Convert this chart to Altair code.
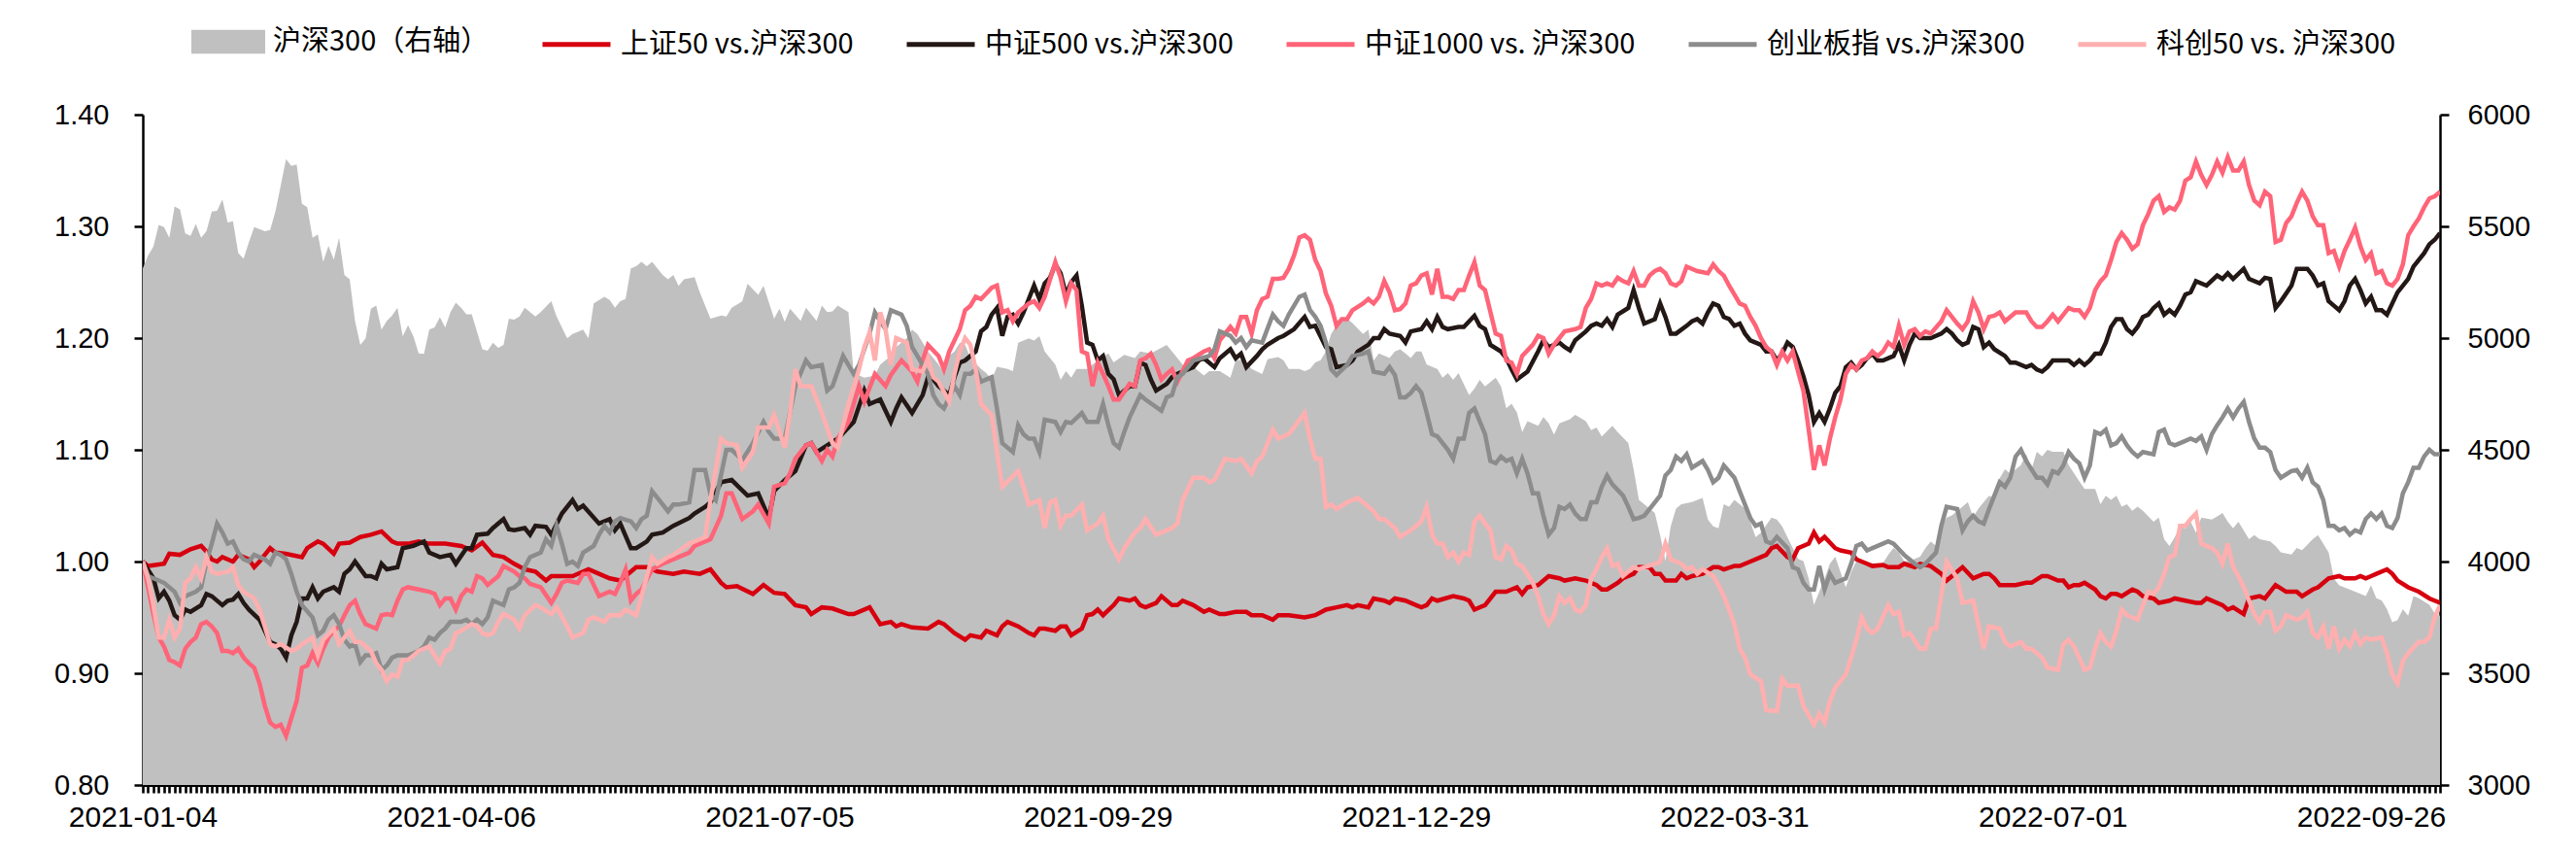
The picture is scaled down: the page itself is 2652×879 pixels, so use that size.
import altair as alt
import pandas as pd

# ---------------- data ----------------
N_DAYS = 434
TICK_STEP = 60
TICK_LABELS = ["2021-01-04", "2021-04-06", "2021-07-05", "2021-09-29",
               "2021-12-29", "2022-03-31", "2022-07-01", "2022-09-26"]

AREA_NAME = "沪深300（右轴）"
AREA_COLOR = "#c0c0c0"
SERIES_NAMES = ["上证50 vs.沪深300", "中证500 vs.沪深300", "中证1000 vs. 沪深300",
                "创业板指 vs.沪深300", "科创50 vs. 沪深300"]
SERIES_COLORS = ["#d7000f", "#231815", "#ff6478", "#8c8c8c", "#ffafaf"]

# (trading-day index, index level)
HS300 = [(0,5312),(1,5370),(2,5410),(3,5507),(4,5497),(5,5449),(6,5589),(7,5576),(8,5468),(9,5458),(10,5511),(11,5449),(12,5478),(13,5566),(14,5570),(15,5621),(16,5517),(17,5523),(18,5380),(19,5355),(20,5429),(21,5497),(23,5478),(24,5484),(25,5566),(26,5683),(27,5801),(28,5771),(29,5777),(30,5601),(31,5586),(32,5449),(33,5464),(34,5341),(35,5413),(36,5351),(37,5449),(38,5283),(39,5263),(40,5077),(41,4970),(42,4999),(43,5132),(44,5146),(45,5038),(46,5077),(47,5101),(48,5136),(49,5009),(50,5058),(51,5009),(52,4931),(53,4929),(54,5038),(55,5048),(56,5093),(57,5048),(58,5116),(59,5159),(60,5136),(61,5107),(62,5107),(63,5028),(64,4950),(65,4944),(66,4979),(67,4956),(68,4970),(69,5087),(70,5083),(71,5097),
 (72,5136),(74,5097),(75,5116),(77,5165),(78,5097),(80,4999),(81,5019),(83,5038),(84,4999),(85,5155),(87,5185),(88,5171),(89,5136),(90,5165),(91,5175),(92,5312),(93,5322),(94,5341),(95,5322),(96,5341),(98,5283),(99,5263),(100,5283),(101,5234),(102,5263),(104,5273),(105,5204),(107,5087),(109,5101),(110,5097),(111,5136),(113,5165),(114,5243),(116,5194),(117,5234),(119,5087),(120,5132),(121,5073),(122,5132),(124,5077),(125,5136),(127,5077),(128,5146),(129,5116),(130,5120),(131,5146),(133,5116),(134,4843),(136,4823),(138,4833),(139,4882),(141,4921),(142,4960),(144,5000),
 (145,5038),(146,5019),(148,4940),(150,4882),(151,4843),(152,4921),(153,4940),(154,4979),(155,4970),(156,4911),(158,4862),(159,4843),(160,4813),(161,4872),(163,4862),(164,4852),(165,4979),(167,4999),(168,4989),(169,5009),(170,4940),(172,4882),(173,4813),(174,4852),(175,4823),(176,4862),(178,4862),(179,4882),(182,4931),(183,4891),(185,4925),(187,4911),(188,4940),(189,4936),(190,4931),(193,4970),(194,4940),(196,4882),(197,4862),(198,4872),(200,4833),(201,4852),(203,4852),(205,4823),(206,4901),(207,4901),(208,4891),(209,4862),(211,4839),(212,4905),(214,4915),(215,4901),(216,4862),(218,4862),
 (219,4852),(220,4862),(221,4891),(222,4901),(223,4940),(224,5019),(225,5058),(226,5077),(227,5087),(228,5067),(230,5019),(231,5038),(232,4900),(233,4931),(235,4911),(236,4940),(237,4950),(238,4931),(239,4911),(240,4940),(241,4940),(242,4882),(244,4862),(245,4823),(246,4843),(247,4813),(248,4843),(250,4745),(251,4774),(252,4813),(253,4784),(255,4823),(256,4784),(257,4686),(258,4706),(259,4667),(260,4579),(261,4628),(263,4608),(264,4647),(265,4618),(266,4569),(267,4618),(269,4637),(270,4657),(272,4628),(273,4588),(274,4600),(275,4560),(277,4608),(278,4579),(280,4530),(281,4413),(282,4276),(285,4217),(286,4119),(287,4002),(288,4158),(289,4237),(290,4256),
 (292,4266),(294,4285),(295,4188),(296,4158),(297,4149),(298,4256),(299,4246),(300,4276),(302,4237),(303,4178),(304,4109),(305,4129),(307,4197),(308,4188),(309,4158),(310,4109),(311,4061),(312,4012),(313,4002),(314,3924),(315,3806),(316,3865),(317,3924),(318,3990),(319,4022),(320,3953),(321,3885),(322,3953),(323,4002),(324,4002),(326,3992),(328,3992),(329,4030),(330,4061),(331,4040),(332,4002),(333,4002),(335,4022),(336,4060),(337,4090),(338,4070),(339,4158),(340,4197),(341,4207),(343,4246),(344,4266),(345,4200),(346,4237),(347,4266),(348,4295),(349,4285),(350,4373),(351,4413),(352,4393),(354,4432),(355,4481),(356,4413),(357,4491),(358,4471),(359,4500),(360,4491),(362,4491),(363,4432),(365,4360),
 (366,4325),(368,4325),(369,4256),(370,4295),(371,4276),(372,4295),(373,4246),(374,4256),(375,4227),(376,4246),(377,4227),(379,4178),(380,4197),(381,4100),(382,4070),(383,4109),(384,4158),(385,4149),(386,4178),(387,4129),(388,4197),(390,4188),(392,4217),(393,4178),(394,4149),(395,4178),(397,4100),(398,4119),(399,4100),(401,4090),(402,4070),(403,4041),(405,4031),(406,4061),(407,4051),(409,4100),(410,4119),(412,4041),(413,3924),(414,3894),(416,3875),(417,3865),(419,3846),(420,3894),(421,3836),(422,3826),(423,3787),(424,3728),(425,3738),(426,3787),(427,3758),(428,3846),(429,3836),(431,3806),(432,3767),(433,3758)]

SZ50 = [(0,1.000),(1,0.996),(4,0.998),(5,1.007),(7,1.006),(9,1.011),(11,1.014),(12,1.009),(13,1.002),(14,1.000),(15,1.004),(17,1.000),(18,1.006),(20,1.002),(21,0.995),(22,1.000),(24,1.012),(25,1.008),(27,1.007),(30,1.004),(31,1.012),(33,1.018),(34,1.016),(36,1.007),(37,1.016),(39,1.017),(41,1.022),(43,1.024),(45,1.027),(47,1.018),(48,1.016),(50,1.016),(52,1.018),(54,1.016),(57,1.016),(60,1.014),(62,1.010),(64,1.017),(66,1.006),(68,1.004),(70,0.998),(72,0.993),
 (74,0.991),(76,0.983),(77,0.987),(81,0.987),(84,0.993),(86,0.989),(88,0.985),(90,0.983),(93,0.995),(95,0.995),(97,0.991),(100,0.989),(102,0.991),(105,0.989),(107,0.993),(109,0.981),(110,0.977),(112,0.978),(115,0.971),(117,0.979),(119,0.972),(121,0.971),(123,0.961),(125,0.959),(126,0.953),(128,0.959),(130,0.958),(133,0.953),(134,0.953),(137,0.959),(139,0.944),(141,0.946),(142,0.942),(143,0.944),(145,0.941),
 (148,0.940),(150,0.946),(151,0.944),(153,0.936),(155,0.930),(156,0.934),(158,0.932),(159,0.938),(161,0.934),(162,0.942),(163,0.946),(165,0.942),(167,0.936),(168,0.934),(169,0.940),(170,0.940),(172,0.938),(173,0.942),(174,0.942),(175,0.934),(177,0.940),(178,0.952),(179,0.953),(180,0.957),(181,0.952),(183,0.961),(184,0.967),(186,0.965),(187,0.967),(188,0.961),(189,0.959),(191,0.963),(192,0.969),(194,0.961),(195,0.961),(196,0.965),(198,0.961),(200,0.955),(201,0.957),(203,0.953),(204,0.953),(206,0.955),(208,0.955),(209,0.952),(211,0.952),(213,0.948),(214,0.952),(216,0.952),(219,0.950),
 (221,0.952),(223,0.957),(225,0.959),(227,0.961),(228,0.959),(229,0.961),(231,0.959),(232,0.967),(234,0.965),(235,0.963),(236,0.967),(238,0.965),(240,0.961),(241,0.959),(242,0.961),(243,0.967),(244,0.965),(247,0.969),(249,0.967),(250,0.965),(251,0.957),(253,0.961),(255,0.973),(257,0.973),(259,0.977),(260,0.971),(261,0.977),(263,0.979),(265,0.987),(267,0.985),(268,0.983),(270,0.985),(272,0.983),(274,0.979),(275,0.975),(276,0.975),(278,0.981),(279,0.985),(281,0.989),(282,0.995),(284,0.995),(285,0.989),(286,0.989),(287,0.983),(289,0.983),(290,0.989),(291,0.985),(292,0.987),
 (294,0.989),(296,0.995),(297,0.995),(298,0.993),(300,0.996),(301,0.996),(303,1.000),(305,1.004),(306,1.006),(307,1.012),(308,1.014),(310,1.004),(311,1.002),(312,1.012),(314,1.016),(315,1.026),(316,1.018),(317,1.022),(319,1.012),(320,1.010),(322,1.008),(323,1.002),(325,0.998),(326,0.996),(328,0.997),(329,0.995),(331,0.995),(332,0.998),(334,0.995),(335,0.998),(337,0.996),(339,0.989),(340,0.983),(341,0.987),(343,0.995),(345,0.985),(347,0.989),(348,0.989),(349,0.985),(350,0.979),(352,0.979),(353,0.979),(355,0.981),(356,0.981),(358,0.987),(359,0.987),(361,0.983),(362,0.983),(363,0.977),(364,0.979),(365,0.979),
 (366,0.981),(368,0.975),(369,0.969),(370,0.967),(371,0.971),(372,0.971),(373,0.969),(375,0.975),(376,0.973),(377,0.969),(379,0.967),(380,0.963),(382,0.965),(383,0.967),(385,0.965),(387,0.963),(388,0.963),(389,0.967),(392,0.961),(393,0.957),(394,0.959),(396,0.953),(397,0.967),(399,0.969),(400,0.967),(402,0.979),(404,0.973),(406,0.973),(407,0.969),(409,0.975),(410,0.977),(412,0.985),(414,0.987),(415,0.985),(417,0.985),(418,0.987),(419,0.985),(420,0.987),(421,0.989),(423,0.993),(424,0.989),(425,0.983),(427,0.977),(428,0.975),(429,0.973),(431,0.967),(432,0.965),(433,0.963)]

ZZ500 = [(0,1.000),(2,0.985),(3,0.967),(4,0.973),(5,0.965),(6,0.952),(7,0.948),(8,0.957),(9,0.955),(11,0.961),(12,0.971),(13,0.969),(15,0.961),(16,0.965),(17,0.966),(18,0.971),(19,0.963),(20,0.957),(22,0.948),(24,0.928),(25,0.926),(26,0.922),(27,0.914),(28,0.934),(29,0.946),(30,0.967),(31,0.967),(32,0.977),(33,0.967),(34,0.973),(36,0.977),(37,0.973),(38,0.989),(39,0.993),(40,1.000),(42,0.987),(43,0.987),(44,0.985),(45,0.998),(46,0.993),(48,0.995),(49,1.012),(51,1.014),(53,1.018),(54,1.008),(56,1.004),(58,1.006),(59,0.998),(61,1.012),(62,1.012),(63,1.024),(65,1.025),(66,1.030),(68,1.038),(69,1.029),(70,1.028),
 (72,1.030),(73,1.024),(74,1.032),(76,1.031),(77,1.024),(79,1.043),(81,1.055),(82,1.047),(83,1.050),(86,1.034),(88,1.038),(89,1.028),(90,1.034),(92,1.012),(93,1.012),(95,1.018),(96,1.024),(98,1.026),(100,1.032),(103,1.039),(104,1.043),(106,1.049),(107,1.053),(109,1.071),(111,1.073),(114,1.059),(116,1.061),(118,1.039),(119,1.063),(121,1.073),(123,1.081),(125,1.104),(126,1.106),(127,1.098),(129,1.104),(131,1.110),(134,1.125),(136,1.153),(137,1.141),(139,1.145),(141,1.125),(142,1.137),(143,1.147),(145,1.133),
 (147,1.149),(148,1.165),(149,1.163),(150,1.157),(152,1.149),(153,1.165),(154,1.178),(155,1.180),(157,1.188),(158,1.206),(159,1.210),(160,1.221),(161,1.227),(162,1.202),(163,1.219),(164,1.221),(165,1.213),(166,1.223),(167,1.235),(168,1.247),(169,1.235),(170,1.249),(171,1.254),(172,1.266),(173,1.258),(174,1.239),(175,1.250),(176,1.256),(177,1.229),(178,1.196),(179,1.194),(180,1.180),(181,1.184),(182,1.168),(183,1.163),(184,1.149),(186,1.157),(187,1.157),(188,1.178),(189,1.176),(190,1.163),(191,1.153),(193,1.159),(194,1.165),(195,1.168),(197,1.172),(198,1.174),(199,1.180),(200,1.182),(202,1.174),(203,1.182),(205,1.190),(206,1.182),(207,1.186),(208,1.174),(210,1.184),(211,1.190),(212,1.194),(214,1.200),(215,1.202),(217,1.208),(219,1.219),
 (220,1.210),(221,1.211),(223,1.192),(224,1.190),(225,1.174),(227,1.176),(228,1.180),(229,1.188),(231,1.194),(232,1.200),(233,1.200),(234,1.208),(235,1.204),(237,1.202),(238,1.196),(239,1.206),(241,1.208),(242,1.215),(243,1.208),(244,1.219),(245,1.210),(246,1.208),(248,1.210),(249,1.210),(250,1.215),(251,1.220),(252,1.211),(253,1.208),(254,1.194),(256,1.188),(257,1.182),(258,1.172),(259,1.163),(261,1.170),(263,1.188),(264,1.198),(265,1.192),(267,1.196),(268,1.192),(269,1.189),(270,1.198),(272,1.206),(273,1.211),(274,1.213),(275,1.211),(276,1.217),(277,1.210),(278,1.221),(280,1.227),(281,1.243),(282,1.227),(283,1.213),(285,1.217),(286,1.231),(287,1.219),(288,1.204),(289,1.204),(291,1.211),(292,1.215),
 (293,1.217),(294,1.213),(295,1.223),(296,1.231),(297,1.229),(298,1.219),(299,1.217),(300,1.211),(301,1.213),(302,1.204),(303,1.198),(305,1.194),(306,1.188),(307,1.188),(308,1.180),(309,1.186),(310,1.196),(311,1.192),(312,1.180),(313,1.166),(314,1.149),(315,1.125),(316,1.133),(317,1.125),(318,1.137),(319,1.151),(320,1.157),(321,1.174),(322,1.178),(323,1.172),(324,1.176),(325,1.182),(326,1.186),(327,1.180),(328,1.180),(330,1.184),(331,1.194),(332,1.180),(333,1.194),(334,1.204),(335,1.200),(337,1.200),(339,1.204),(340,1.208),(341,1.204),(342,1.198),(343,1.194),(344,1.196),(345,1.210),(346,1.208),(347,1.192),(348,1.196),(349,1.190),(351,1.184),(352,1.178),(353,1.178),(355,1.174),(356,1.176),(357,1.172),(358,1.170),(359,1.174),(360,1.180),(362,1.180),(363,1.180),(364,1.176),(365,1.180),
 (366,1.176),(367,1.180),(368,1.186),(369,1.186),(370,1.196),(371,1.210),(372,1.217),(373,1.217),(374,1.208),(375,1.204),(376,1.210),(377,1.219),(378,1.221),(379,1.227),(380,1.231),(381,1.221),(382,1.225),(383,1.221),(384,1.229),(385,1.239),(386,1.241),(387,1.251),(389,1.247),(391,1.256),(392,1.253),(393,1.258),(394,1.253),(396,1.262),(397,1.253),(399,1.249),(400,1.254),(401,1.253),(402,1.227),(403,1.233),(405,1.247),(406,1.262),(408,1.262),(409,1.256),(410,1.247),(411,1.249),(412,1.233),(413,1.229),(414,1.225),(415,1.233),(416,1.247),(417,1.253),(418,1.243),(419,1.231),(420,1.237),(421,1.225),(422,1.225),(423,1.221),(424,1.231),(425,1.241),(427,1.253),(428,1.264),(430,1.276),(431,1.284),(432,1.288),(433,1.294)]

ZZ1000 = [(0,1.000),(1,0.977),(2,0.953),(3,0.932),(4,0.924),(5,0.912),(6,0.910),(7,0.907),(8,0.922),(9,0.928),(10,0.932),(11,0.944),(12,0.946),(13,0.942),(14,0.936),(15,0.920),(16,0.920),(17,0.918),(18,0.922),(19,0.914),(20,0.909),(21,0.905),(22,0.891),(23,0.871),(24,0.856),(25,0.852),(26,0.854),(27,0.844),(28,0.860),(29,0.875),(30,0.905),(31,0.907),(32,0.918),(33,0.909),(34,0.922),(35,0.932),(36,0.938),(37,0.942),(38,0.952),(39,0.961),(40,0.965),(41,0.953),(42,0.944),(43,0.942),(44,0.940),(45,0.952),(46,0.953),(47,0.952),(48,0.965),(49,0.975),(50,0.977),(52,0.975),(54,0.973),(55,0.971),(56,0.961),(57,0.967),(58,0.967),(59,0.957),(60,0.969),(61,0.975),(62,0.973),(63,0.987),(64,0.985),(65,0.979),(66,0.983),(67,0.987),(68,0.996),(70,0.991),(71,0.987),(72,0.985),
 (73,0.980),(75,0.977),(77,0.963),(78,0.971),(79,0.981),(80,0.983),(82,0.981),(83,0.989),(84,0.989),(86,0.969),(88,0.973),(89,0.971),(90,0.981),(91,0.993),(92,0.965),(93,0.971),(94,0.975),(96,0.993),(98,0.998),(101,1.004),(103,1.008),(104,1.014),(107,1.020),(109,1.041),(110,1.061),(111,1.061),(113,1.038),(115,1.045),(116,1.051),(118,1.034),(119,1.067),(121,1.070),(122,1.079),(123,1.092),(125,1.104),(126,1.106),(128,1.090),(129,1.100),(130,1.094),(131,1.110),(133,1.125),(135,1.157),(136,1.143),(138,1.168),(140,1.157),(141,1.167),(143,1.180),(145,1.170),
 (146,1.161),(147,1.180),(148,1.194),(150,1.184),(151,1.172),(152,1.188),(154,1.208),(155,1.225),(156,1.229),(157,1.237),(158,1.235),(160,1.245),(161,1.247),(162,1.223),(163,1.225),(164,1.215),(165,1.223),(167,1.231),(168,1.233),(169,1.227),(170,1.237),(172,1.268),(173,1.254),(174,1.233),(175,1.249),(176,1.243),(177,1.188),(178,1.186),(179,1.157),(180,1.178),(181,1.168),(182,1.157),(183,1.145),(184,1.145),(186,1.159),(187,1.157),(188,1.180),(189,1.182),(190,1.186),(191,1.176),(192,1.163),(193,1.168),(194,1.172),(195,1.161),(197,1.180),(198,1.182),(200,1.188),(201,1.190),(202,1.182),(203,1.198),(205,1.210),(206,1.204),(207,1.219),(208,1.219),(209,1.204),(210,1.225),(211,1.235),(212,1.237),(213,1.253),(214,1.253),(215,1.254),(216,1.262),(217,1.274),(218,1.290),
 (219,1.292),(220,1.288),(221,1.270),(222,1.260),(223,1.240),(224,1.229),(225,1.211),(226,1.217),(227,1.217),(228,1.225),(230,1.231),(231,1.235),(232,1.231),(233,1.237),(234,1.251),(235,1.241),(236,1.225),(237,1.226),(238,1.231),(239,1.247),(240,1.249),(241,1.256),(242,1.258),(243,1.239),(244,1.262),(245,1.237),(246,1.237),(247,1.235),(248,1.243),(249,1.243),(250,1.256),(251,1.268),(252,1.247),(253,1.243),(255,1.204),(256,1.202),(257,1.180),(258,1.178),(259,1.168),(260,1.184),(262,1.194),(263,1.202),(264,1.200),(265,1.186),(266,1.194),(267,1.200),(268,1.206),(270,1.208),(271,1.210),(272,1.227),(273,1.235),(274,1.249),(275,1.247),(276,1.249),(277,1.247),(278,1.254),(279,1.251),(280,1.249),(281,1.260),(282,1.247),(283,1.247),(284,1.256),(285,1.260),(286,1.262),(287,1.258),(288,1.249),(289,1.247),(290,1.251),(291,1.264),(292,1.262),
 (293,1.260),(295,1.258),(296,1.266),(297,1.260),(298,1.256),(299,1.247),(300,1.239),(301,1.231),(302,1.229),(303,1.219),(304,1.211),(305,1.200),(306,1.192),(307,1.188),(308,1.176),(309,1.188),(310,1.180),(311,1.188),(312,1.170),(313,1.153),(314,1.118),(315,1.082),(316,1.104),(317,1.086),(318,1.110),(319,1.129),(320,1.145),(321,1.168),(322,1.176),(323,1.172),(324,1.180),(325,1.182),(326,1.188),(327,1.184),(328,1.188),(329,1.196),(330,1.192),(331,1.211),(332,1.194),(333,1.206),(334,1.208),(335,1.202),(336,1.206),(337,1.204),(339,1.215),(340,1.225),(341,1.219),(342,1.213),(343,1.208),(344,1.215),(345,1.233),(346,1.223),(347,1.208),(348,1.219),(349,1.220),(350,1.223),(351,1.215),(353,1.223),(355,1.223),(356,1.215),(357,1.210),(358,1.210),(359,1.215),(360,1.221),(361,1.215),(362,1.221),(363,1.227),(364,1.225),(365,1.225),
 (366,1.219),(367,1.227),(368,1.243),(369,1.251),(370,1.256),(371,1.270),(372,1.286),(373,1.294),(374,1.288),(375,1.280),(376,1.284),(377,1.301),(378,1.311),(379,1.323),(380,1.327),(381,1.313),(382,1.317),(383,1.315),(384,1.323),(385,1.341),(386,1.344),(387,1.358),(388,1.346),(389,1.337),(390,1.346),(391,1.358),(392,1.348),(393,1.362),(394,1.350),(395,1.350),(396,1.358),(397,1.337),(398,1.323),(399,1.319),(400,1.331),(401,1.327),(402,1.286),(403,1.288),(404,1.303),(405,1.309),(406,1.321),(407,1.331),(408,1.323),(409,1.309),(410,1.301),(411,1.301),(412,1.276),(413,1.278),(414,1.264),(415,1.278),(416,1.288),(417,1.299),(418,1.282),(419,1.270),(420,1.276),(421,1.258),(422,1.260),(423,1.249),(424,1.247),(425,1.253),(426,1.266),(427,1.292),(428,1.300),(429,1.307),(430,1.317),(431,1.325),(432,1.327),(433,1.331)]

CYB = [(0,1.000),(1,0.987),(3,0.983),(4,0.981),(5,0.977),(6,0.973),(7,0.963),(8,0.969),(10,0.973),(11,0.977),(12,1.000),(13,1.016),(14,1.034),(15,1.026),(16,1.016),(17,1.018),(18,1.008),(19,1.002),(20,1.000),(21,1.006),(23,1.002),(24,0.998),(25,1.008),(26,1.006),(27,1.002),(28,0.989),(29,0.973),(30,0.961),(32,0.950),(33,0.934),(34,0.938),(35,0.948),(36,0.952),(37,0.944),(38,0.930),(39,0.924),(40,0.926),(41,0.910),(42,0.916),(43,0.916),(44,0.918),(45,0.903),(46,0.907),(47,0.914),(48,0.916),(50,0.916),(52,0.920),(53,0.924),(54,0.932),(55,0.930),(56,0.936),(57,0.940),(58,0.946),(60,0.946),(61,0.948),(62,0.944),(63,0.948),(64,0.944),(65,0.950),(66,0.965),(67,0.963),(68,0.961),(69,0.975),(70,0.977),(71,0.981),(72,0.995),
 (73,1.004),(75,1.008),(76,1.020),(77,1.014),(78,1.032),(79,1.016),(80,0.998),(81,1.000),(82,0.996),(83,1.008),(85,1.014),(86,1.024),(87,1.032),(88,1.026),(89,1.036),(90,1.039),(92,1.036),(93,1.030),(94,1.038),(95,1.041),(96,1.063),(97,1.057),(99,1.045),(100,1.051),(101,1.051),(103,1.053),(104,1.082),(106,1.082),(107,1.060),(108,1.055),(110,1.100),(111,1.100),(113,1.091),(115,1.106),(117,1.125),(118,1.116),(119,1.110),(121,1.110),(123,1.157),(125,1.180),(126,1.174),(128,1.176),(129,1.153),(130,1.157),(132,1.184),(134,1.168),(135,1.176),(137,1.204),(138,1.223),(139,1.215),(140,1.208),(141,1.225),(143,1.221),(144,1.211),(145,1.192),
 (147,1.176),(148,1.168),(149,1.149),(150,1.141),(151,1.137),(153,1.157),(154,1.149),(155,1.168),(156,1.168),(157,1.172),(158,1.161),(160,1.165),(161,1.137),(162,1.106),(164,1.098),(165,1.122),(166,1.114),(167,1.110),(168,1.110),(169,1.098),(170,1.127),(172,1.125),(173,1.116),(174,1.125),(175,1.124),(177,1.133),(178,1.125),(180,1.125),(181,1.141),(182,1.122),(183,1.106),(184,1.102),(185,1.116),(186,1.129),(188,1.149),(189,1.145),(192,1.135),(193,1.147),(194,1.149),(195,1.165),(196,1.168),(198,1.180),(201,1.184),(202,1.190),(203,1.206),(205,1.202),(206,1.196),(207,1.200),(208,1.192),(209,1.198),(211,1.196),(213,1.221),(214,1.215),(215,1.211),(216,1.221),(218,1.237),(219,1.239),
 (220,1.225),(221,1.219),(222,1.211),(223,1.196),(224,1.172),(225,1.167),(227,1.176),(228,1.184),(230,1.186),(231,1.188),(232,1.170),(234,1.168),(235,1.174),(236,1.167),(237,1.147),(238,1.147),(239,1.151),(240,1.157),(241,1.151),(242,1.133),(243,1.114),(244,1.112),(246,1.100),(247,1.092),(248,1.110),(249,1.110),(250,1.133),(251,1.137),(253,1.114),(254,1.090),(255,1.088),(256,1.094),(257,1.090),(258,1.092),(259,1.079),(260,1.092),(261,1.079),(262,1.061),(263,1.061),(264,1.041),(265,1.024),(266,1.030),(267,1.049),(268,1.047),(269,1.051),(270,1.043),(271,1.038),(272,1.038),(273,1.053),(274,1.053),(275,1.067),(276,1.077),(277,1.069),(279,1.059),(280,1.049),(281,1.038),(282,1.039),(283,1.041),(285,1.053),(286,1.059),(287,1.077),(288,1.082),(289,1.094),(290,1.090),(291,1.096),(292,1.084),
 (294,1.090),(295,1.082),(296,1.071),(297,1.075),(298,1.086),(300,1.075),(301,1.063),(302,1.051),(303,1.039),(304,1.032),(305,1.034),(306,1.018),(307,1.016),(308,1.022),(310,1.012),(311,0.995),(312,0.993),(313,0.981),(314,0.975),(315,0.975),(316,0.996),(317,0.975),(318,0.989),(319,0.981),(321,0.985),(322,0.998),(323,1.014),(324,1.016),(325,1.010),(327,1.014),(329,1.018),(330,1.016),(332,1.006),(333,1.002),(334,0.998),(335,0.995),(336,0.998),(338,1.008),(339,1.032),(340,1.049),(342,1.047),(343,1.028),(344,1.036),(345,1.041),(346,1.036),(347,1.034),(348,1.047),(350,1.071),(351,1.067),(352,1.075),(353,1.094),(354,1.100),(355,1.090),(357,1.075),(358,1.075),(359,1.069),(360,1.081),(361,1.079),(362,1.086),(363,1.098),(364,1.092),(365,1.088),
 (366,1.075),(367,1.086),(368,1.116),(369,1.114),(370,1.118),(371,1.104),(372,1.106),(373,1.112),(374,1.104),(375,1.098),(376,1.094),(377,1.098),(379,1.096),(380,1.116),(381,1.118),(382,1.106),(383,1.104),(384,1.106),(386,1.110),(387,1.108),(388,1.112),(389,1.100),(390,1.114),(391,1.122),(392,1.129),(393,1.137),(394,1.129),(395,1.137),(396,1.143),(397,1.125),(398,1.110),(399,1.102),(400,1.102),(401,1.098),(402,1.082),(403,1.075),(405,1.081),(406,1.082),(407,1.075),(408,1.084),(409,1.071),(410,1.067),(411,1.055),(412,1.032),(413,1.032),(414,1.028),(415,1.030),(416,1.024),(417,1.028),(418,1.026),(419,1.038),(420,1.043),(421,1.038),(422,1.043),(423,1.032),(424,1.030),(425,1.039),(426,1.061),(427,1.071),(428,1.084),(429,1.084),(430,1.094),(431,1.100),(432,1.096),(433,1.096)]

KC50 = [(0,1.000),(1,0.985),(2,0.961),(3,0.932),(4,0.932),(5,0.948),(6,0.932),(7,0.940),(8,0.981),(9,0.985),(10,0.995),(11,0.985),(12,1.004),(13,0.991),(14,0.989),(16,0.991),(17,0.995),(18,0.979),(19,0.973),(21,0.967),(22,0.957),(23,0.942),(24,0.926),(25,0.924),(26,0.926),(28,0.920),(29,0.922),(30,0.926),(32,0.932),(33,0.916),(34,0.930),(36,0.940),(37,0.926),(38,0.932),(39,0.938),(40,0.928),(41,0.928),(43,0.920),(44,0.909),(45,0.903),(46,0.893),(47,0.899),(48,0.897),(49,0.912),(50,0.912),(51,0.916),(52,0.920),(54,0.924),(55,0.916),(56,0.909),(57,0.920),(58,0.922),(59,0.936),(60,0.938),(62,0.944),(63,0.942),(64,0.936),(65,0.934),(66,0.936),(67,0.946),(68,0.953),(70,0.948),(71,0.940),(72,0.952),
 (74,0.961),(75,0.959),(77,0.953),(78,0.959),(80,0.942),(81,0.932),(83,0.936),(84,0.948),(85,0.950),(87,0.946),(88,0.952),(90,0.952),(91,0.957),(93,0.952),(94,0.969),(96,1.004),(97,0.998),(99,1.004),(100,1.006),(103,1.016),(105,1.020),(106,1.022),(107,1.055),(109,1.110),(110,1.106),(112,1.104),(113,1.084),(115,1.098),(116,1.120),(118,1.120),(119,1.131),(121,1.102),(122,1.133),(123,1.172),(124,1.157),(126,1.157),(128,1.133),(130,1.106),(131,1.102),(132,1.122),(133,1.141),(135,1.172),(136,1.192),(137,1.205),(138,1.180),(139,1.223),(140,1.208),(141,1.176),(142,1.200),(144,1.196),(145,1.172),
 (147,1.170),(148,1.182),(149,1.165),(150,1.161),(152,1.143),(153,1.168),(154,1.188),(155,1.200),(156,1.194),(157,1.172),(158,1.141),(160,1.131),(161,1.098),(162,1.067),(165,1.081),(166,1.067),(167,1.051),(169,1.055),(170,1.030),(171,1.053),(172,1.055),(173,1.032),(174,1.041),(175,1.041),(177,1.051),(178,1.028),(180,1.034),(181,1.041),(182,1.020),(184,1.002),(185,1.012),(187,1.026),(188,1.030),(189,1.038),(191,1.024),(192,1.026),(194,1.030),(195,1.034),(196,1.055),(198,1.075),(200,1.075),(201,1.071),(202,1.073),(204,1.092),(206,1.090),(207,1.092),(209,1.079),(210,1.090),(211,1.094),(213,1.118),(214,1.110),(216,1.114),(219,1.133),
 (220,1.110),(221,1.092),(222,1.092),(223,1.049),(224,1.051),(225,1.047),(227,1.053),(228,1.055),(229,1.057),(231,1.049),(232,1.045),(233,1.038),(234,1.038),(236,1.030),(237,1.022),(239,1.028),(241,1.036),(242,1.049),(243,1.024),(244,1.016),(245,1.016),(246,1.004),(247,1.008),(248,1.000),(249,1.008),(250,1.006),(251,1.036),(252,1.041),(253,1.034),(254,1.028),(255,1.004),(256,1.002),(257,1.014),(258,1.010),(259,0.998),(260,0.996),(262,0.981),(263,0.969),(264,0.953),(265,0.944),(266,0.952),(267,0.969),(268,0.963),(269,0.967),(270,0.957),(271,0.955),(272,0.961),(273,0.985),(274,0.993),(275,1.004),(276,1.012),(277,0.996),(278,0.998),(279,0.987),(281,0.995),(282,0.993),(283,0.995),(285,0.998),(286,1.000),(287,1.016),(288,1.002),(289,1.000),(290,0.998),(291,0.993),(292,0.995),
 (293,0.989),(294,0.993),(296,0.987),(297,0.979),(298,0.969),(299,0.957),(300,0.944),(301,0.922),(302,0.914),(303,0.899),(305,0.893),(306,0.867),(308,0.866),(309,0.895),(310,0.889),(312,0.889),(313,0.871),(315,0.854),(316,0.864),(317,0.856),(318,0.875),(319,0.887),(321,0.899),(322,0.914),(323,0.930),(324,0.950),(325,0.940),(326,0.936),(327,0.940),(329,0.961),(330,0.953),(331,0.955),(332,0.934),(333,0.936),(335,0.922),(336,0.922),(337,0.940),(338,0.940),(340,1.000),(342,0.985),(343,0.963),(345,0.965),(347,0.922),(348,0.942),(350,0.940),(351,0.928),(352,0.924),(354,0.928),(355,0.922),(356,0.922),(358,0.914),(359,0.905),(361,0.903),(362,0.926),(363,0.930),(364,0.924),(365,0.914),
 (366,0.903),(367,0.905),(368,0.922),(369,0.936),(370,0.928),(371,0.924),(372,0.938),(373,0.957),(374,0.952),(376,0.948),(377,0.961),(378,0.973),(379,0.971),(380,0.977),(381,0.989),(382,1.004),(383,1.006),(384,1.032),(385,1.032),(386,1.038),(387,1.043),(388,1.016),(390,1.012),(391,1.008),(392,0.998),(393,1.016),(394,0.995),(395,0.987),(396,0.977),(398,0.953),(399,0.946),(400,0.955),(401,0.955),(402,0.938),(403,0.942),(404,0.952),(406,0.948),(407,0.950),(408,0.955),(409,0.936),(410,0.932),(411,0.942),(412,0.922),(413,0.942),(414,0.922),(415,0.930),(416,0.924),(417,0.936),(418,0.926),(419,0.932),(420,0.930),(422,0.932),(423,0.918),(424,0.899),(425,0.891),(426,0.911),(427,0.918),(429,0.928),(430,0.928),(431,0.932),(432,0.950),(433,0.961)]

LINE_SERIES = [SZ50, ZZ500, ZZ1000, CYB, KC50]

# ---------------- tables ----------------
area_df = pd.DataFrame(HS300, columns=["idx", "val"])
area_df["name"] = AREA_NAME

rows = []
for order, (name, pts) in enumerate(zip(SERIES_NAMES, LINE_SERIES)):
    for i, v in pts:
        rows.append({"idx": i, "val": v, "series": name, "ord": order})
line_df = pd.DataFrame(rows)

# x-axis label expression from the tick label list
label_expr = "''"
for k in range(len(TICK_LABELS) - 1, -1, -1):
    label_expr = f"datum.value == {k * TICK_STEP} ? '{TICK_LABELS[k]}' : ({label_expr})"

AXIS_FONT = "Liberation Sans"
LEGEND_FONT = "Noto Sans CJK SC"

x_enc = alt.X(
    "idx:Q",
    scale=alt.Scale(domain=[0, N_DAYS - 1], nice=False, zero=False),
    axis=alt.Axis(
        title=None, values=list(range(N_DAYS)), labelExpr=label_expr,
        grid=False, tickSize=8, tickWidth=2.6, tickColor="black",
        domainColor="black", domainWidth=3,
        labelFont=AXIS_FONT, labelFontSize=30, labelColor="black",
        labelPadding=10, labelOverlap=False, labelFlush=False, labelBound=False,
    ),
)

area = alt.Chart(area_df).mark_area(opacity=1, clip=True, interpolate="linear").encode(
    x=x_enc,
    y=alt.Y(
        "val:Q",
        scale=alt.Scale(domain=[3000, 6000], nice=False, zero=False),
        axis=alt.Axis(
            orient="right", title=None, values=list(range(3000, 6001, 500)),
            format="d", grid=False, tickSize=9, tickWidth=2.5, tickColor="black",
            domainColor="black", domainWidth=2.5,
            labelFont=AXIS_FONT, labelFontSize=29, labelColor="black", labelPadding=19,
        ),
    ),
    y2=alt.datum(3000),
    fill=alt.Fill(
        "name:N",
        scale=alt.Scale(domain=[AREA_NAME], range=[AREA_COLOR]),
        legend=alt.Legend(
            orient="none", legendX=50, legendY=-113, title=None,
            symbolType="M-1,-0.32H1V0.32H-1Z", symbolSize=5776, symbolStrokeWidth=0,
            symbolOpacity=1, labelFont=LEGEND_FONT, labelFontSize=29, labelColor="black",
            labelOffset=8, labelLimit=0, padding=0,
        ),
    ),
)

lines = alt.Chart(line_df).mark_line(strokeWidth=4.5, clip=True).encode(
    x=x_enc,
    y=alt.Y(
        "val:Q",
        scale=alt.Scale(domain=[0.8, 1.4], nice=False, zero=False),
        axis=alt.Axis(
            orient="left", title=None, values=[0.8, 0.9, 1.0, 1.1, 1.2, 1.3, 1.4],
            format=".2f", grid=False, tickSize=9, tickWidth=2.5, tickColor="black",
            domainColor="black", domainWidth=2.5,
            labelFont=AXIS_FONT, labelFontSize=29, labelColor="black", labelPadding=26,
        ),
    ),
    stroke=alt.Stroke(
        "series:N",
        scale=alt.Scale(domain=SERIES_NAMES, range=SERIES_COLORS),
        sort=SERIES_NAMES,
        legend=alt.Legend(
            orient="none", legendX=409, legendY=-110, title=None,
            direction="horizontal", columns=5, columnPadding=44,
            symbolType="stroke", symbolSize=4900, symbolStrokeWidth=5,
            labelFont=LEGEND_FONT, labelFontSize=29, labelColor="black",
            labelOffset=8, labelLimit=0, padding=0,
        ),
    ),
    order=alt.Order("ord:Q"),
)

chart = (
    alt.layer(area, lines)
    .resolve_scale(y="independent", x="shared")
    .properties(
        width=2365, height=690,
        autosize=alt.AutoSizeParams(type="none"),
        padding={"left": 139, "top": 110, "right": 130, "bottom": 60},
        background="white",
    )
    .configure_view(stroke=None)
)

chart.save("out.html", embed_options={"renderer": "svg", "actions": False})
